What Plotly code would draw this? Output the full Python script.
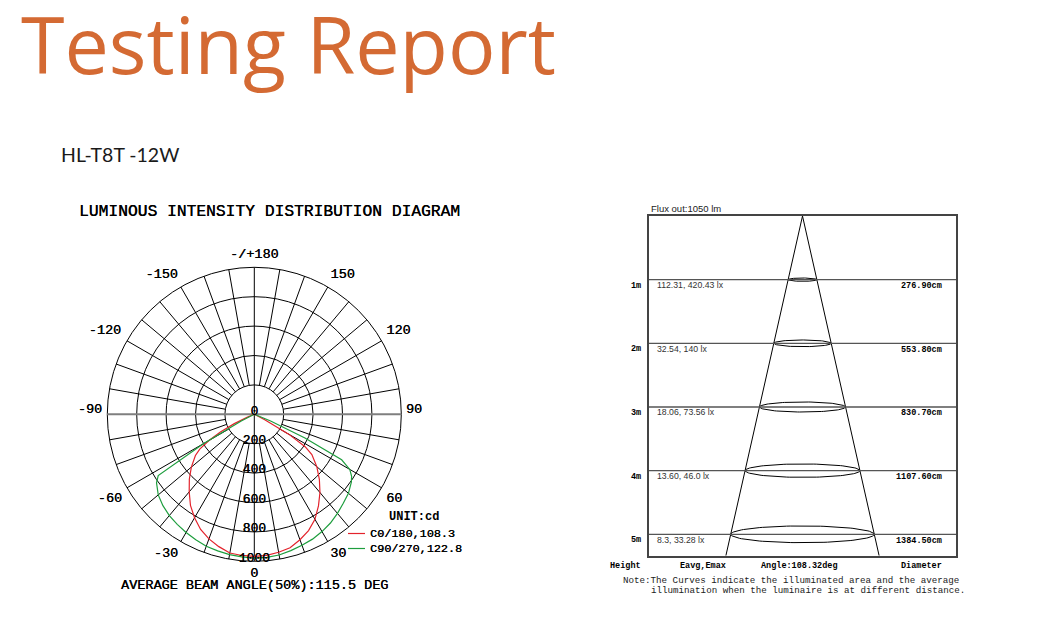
import numpy as np
import plotly.graph_objects as go

# ---------------- data ----------------
# luminous intensity (cd), gamma in degrees from nadir
gamma = [0, 5, 10, 15, 20, 25, 30, 35, 40, 45, 50, 55, 57.5, 60, 62.5, 65, 67.5, 70, 75, 80, 85, 90]
c0 = [967, 963, 953, 940, 908, 873, 825, 761, 695, 626, 555, 478, 410, 270, 80, 0, 0, 0, 0, 0, 0, 0]
c180 = [967, 964, 958, 932, 902, 864, 813, 757, 689, 625, 559, 489, 440, 356, 260, 150, 50, 0, 0, 0, 0, 0]
c90 = [978, 977, 972, 960, 948, 937, 921, 903, 880, 856, 836, 806, 785, 750, 670, 380, 120, 0, 0, 0, 0, 0]
c270 = [978, 974, 969, 962, 955, 942, 928, 914, 899, 879, 853, 812, 775, 400, 100, 0, 0, 0, 0, 0, 0, 0]

beam_c0_180 = 108.3
beam_c90_270 = 122.8
avg_beam = 115.5

angle_tickvals = [0, 30, 60, 90, 120, 150, 180, 210, 240, 270, 300, 330]
angle_ticktext = ["0", "30", "60", "90", "120", "150", "-/+180", "-150", "-120", "-90", "-60", "-30"]
radial_ticks = [0, 200, 400, 600, 800, 1000]

# illuminance cone diagram
flux_lm = 1050
heights_m = [1, 2, 3, 4, 5]
eavg = ["112.31", "32.54", "18.06", "13.60", "8.3"]
emax = ["420.43", "140", "73.56", "46.0", "33.28"]
diameter_cm = [276.90, 553.80, 830.70, 1107.60, 1384.50]
cone_angle = 108.32

# ---------------- layout helpers ----------------
W, H = 1040, 621
def px(x):
    return x / W
def py(y):
    return 1 - y / H

MONO = "Liberation Mono"
SANS = "Liberation Sans"
RED = "#E3232C"
GREEN = "#1E9E3E"
HEAVY = "0.3px 0px 0px #000"   # slight faux-bold for the Courier-like texts

# polar geometry: centre and outer-ring radius in pixels, extra room for labels
CX, CY, RPX = 254.3, 414.3, 147.0
ROOM = 1.18
# where each angular label sits (angle in deg, distance as fraction of the outer ring)
angle_label_pos = [0, 31, 59, 91.5, 120, 147.6, 180, 213.6, 240.8, 268.5, 300.2, 327.7]
angle_label_dist = [1.082, 1.109, 1.111, 1.087, 1.133, 1.122, 1.084, 1.138, 1.164, 1.118, 1.136, 1.124]
radial_label_lift = 20   # radial labels sit a little above their ring

fig = go.Figure()

rmax = radial_ticks[-1]
# ---- polar grid: spokes every 10 deg from the 200 ring outward ----
sp_r, sp_t = [], []
for a in range(0, 360, 10):
    if a % 90 == 0:
        continue
    sp_r += [radial_ticks[1], rmax, None]
    sp_t += [a, a, None]
fig.add_trace(go.Scatterpolar(r=sp_r, theta=sp_t, mode="lines",
                              line=dict(color="black", width=1),
                              hoverinfo="skip", showlegend=False))
# vertical axis through centre
fig.add_trace(go.Scatterpolar(r=[rmax, 0, rmax], theta=[180, 180, 0],
                              mode="lines", line=dict(color="black", width=1),
                              hoverinfo="skip", showlegend=False))
# horizontal axis through centre
fig.add_trace(go.Scatterpolar(r=[rmax, 0, rmax], theta=[270, 270, 90],
                              mode="lines", line=dict(color="#7f7f7f", width=2),
                              hoverinfo="skip", showlegend=False))

# ---- curves ----
def curve(left, right):
    th = [-g for g in reversed(gamma)] + gamma[1:]
    rr = list(reversed(left)) + right[1:]
    return rr, th

r_red, t_red = curve(c180, c0)
r_grn, t_grn = curve(c270, c90)
fig.add_trace(go.Scatterpolar(r=r_red, theta=t_red, mode="lines",
                              line=dict(color=RED, width=1.2), hoverinfo="skip",
                              showlegend=False))
fig.add_trace(go.Scatterpolar(r=r_grn, theta=t_grn, mode="lines",
                              line=dict(color=GREEN, width=1.2), hoverinfo="skip",
                              showlegend=False))

# radial labels along the nadir line
lab_r = [abs(v - radial_label_lift) for v in radial_ticks]
lab_t = [0 if v >= radial_label_lift else 180 for v in radial_ticks]
fig.add_trace(go.Scatterpolar(r=lab_r, theta=lab_t, mode="text",
                              text=[str(v) for v in radial_ticks], textposition="middle center",
                              textfont=dict(family=MONO, size=13, color="black", shadow=HEAVY),
                              cliponaxis=False, hoverinfo="skip", showlegend=False))
# angular labels outside the outer ring
fig.add_trace(go.Scatterpolar(r=[d * rmax for d in angle_label_dist],
                              theta=angle_label_pos, mode="text", text=angle_ticktext,
                              textposition="middle center",
                              textfont=dict(family=MONO, size=13.5, color="black", shadow=HEAVY),
                              cliponaxis=False, hoverinfo="skip", showlegend=False))

RD = RPX * ROOM
fig.update_layout(
    polar=dict(
        domain=dict(x=[px(CX - RD), px(CX + RD)], y=[py(CY + RD), py(CY - RD)]),
        bgcolor="rgba(0,0,0,0)",
        angularaxis=dict(rotation=-90, direction="counterclockwise",
                         tickmode="array", tickvals=angle_tickvals,
                         showticklabels=False,
                         showgrid=False, showline=False, ticks=""),
        radialaxis=dict(range=[0, rmax * ROOM], tickvals=radial_ticks[1:],
                        showticklabels=False, showline=False, ticks="",
                        gridcolor="black", gridwidth=1),
    )
)

# ---- cone diagram (cartesian) ----
x_half = 14.8
y_bottom = 5.336
half = np.tan(np.radians(cone_angle / 2))
fig.add_trace(go.Scatter(x=[-y_bottom * half, 0, y_bottom * half], y=[y_bottom, 0, y_bottom],
                         mode="lines", line=dict(color="black", width=1),
                         hoverinfo="skip", showlegend=False, xaxis="x", yaxis="y"))
ex, ey = [], []
t = np.linspace(0, 2 * np.pi, 120)
for h, d in zip(heights_m, diameter_cm):
    a = d / 200.0
    b = 0.019 * a
    ex += list(a * np.cos(t)) + [None]
    ey += list(h + b * np.sin(t)) + [None]
fig.add_trace(go.Scatter(x=ex, y=ey, mode="lines", line=dict(color="black", width=1),
                         hoverinfo="skip", showlegend=False, xaxis="x", yaxis="y"))

fig.update_layout(
    xaxis=dict(domain=[px(649), px(956)], range=[-x_half, x_half], showgrid=False,
               zeroline=False, showticklabels=False, ticks="", showline=True, mirror=True,
               linecolor="#444", linewidth=1.5, fixedrange=True),
    yaxis=dict(domain=[py(555.7), py(216)], range=[y_bottom, 0], showgrid=False,
               zeroline=False, showticklabels=False, ticks="", showline=True, mirror=True,
               linecolor="#444", linewidth=1.5, fixedrange=True),
)

shapes = []
for h in heights_m:
    shapes.append(dict(type="line", xref="x domain", yref="y", x0=0, x1=1, y0=h, y1=h,
                       line=dict(color="#555", width=1.3)))
# legend samples
shapes.append(dict(type="line", xref="paper", yref="paper", x0=px(348), x1=px(365),
                   y0=py(533.5), y1=py(533.5), line=dict(color=RED, width=1.2)))
shapes.append(dict(type="line", xref="paper", yref="paper", x0=px(348), x1=px(365),
                   y0=py(548.5), y1=py(548.5), line=dict(color=GREEN, width=1.2)))

ann = []
def pa(text, x, y, size, family=MONO, color="black", xanchor="center", weight=None, shadow=None):
    f = dict(family=family, size=size, color=color)
    if weight:
        f["weight"] = weight
    if shadow:
        f["shadow"] = shadow
    ann.append(dict(text=text, x=px(x), y=py(y), xref="paper", yref="paper",
                    xanchor=xanchor, yanchor="middle", showarrow=False, font=f))

pa("Testing Report", 19, 44, 79, family="Open Sans", color="#D46A33", xanchor="left")
pa("HL-T8T -12W", 59, 154, 19.5, family="Lato", color="#1a1a1a", xanchor="left")
pa("LUMINOUS INTENSITY DISTRIBUTION DIAGRAM", 269.5, 211.5, 16.3, shadow=HEAVY)
pa(f"AVERAGE BEAM ANGLE(50%):{avg_beam} DEG", 254.2, 585, 13.5, shadow=HEAVY)
pa("UNIT:cd", 413.8, 517.3, 12, weight="bold")
pa(f"C0/180,{beam_c0_180}", 367.5, 533.5, 11.8, xanchor="left", shadow=HEAVY)
pa(f"C90/270,{beam_c90_270}", 367.5, 548.5, 11.8, xanchor="left", shadow=HEAVY)

# cone diagram texts
ann.append(dict(text=f"Flux out:{flux_lm} lm", x=-x_half, y=0, xref="x", yref="y",
                xanchor="left", yanchor="bottom", yshift=0, showarrow=False,
                font=dict(family=SANS, size=9.5, color="#222")))
for h, ea, em, d in zip(heights_m, eavg, emax, diameter_cm):
    ann.append(dict(text=f"{h}m", x=-x_half, y=h, xref="x", yref="y", xanchor="right",
                    yanchor="middle", xshift=-6, yshift=-6, showarrow=False,
                    font=dict(family=MONO, size=8.5, color="black", weight="bold")))
    ann.append(dict(text=f"{ea}, {em} lx", x=-x_half, y=h, xref="x", yref="y",
                    xanchor="left", yanchor="middle", xshift=6, yshift=-5.5, showarrow=False,
                    font=dict(family=SANS, size=8.7, color="#333")))
    ann.append(dict(text=f"{d:.2f}cm", x=x_half, y=h, xref="x", yref="y", xanchor="right",
                    yanchor="middle", xshift=-12, yshift=-6.5, showarrow=False,
                    font=dict(family=MONO, size=8.5, color="black", weight="bold")))

pa("Height", 642.5, 565.5, 8.5, xanchor="right", weight="bold")
pa("Eavg,Emax", 703, 565.5, 8.5, weight="bold")
pa(f"Angle:{cone_angle}deg", 799, 565.5, 8.5, weight="bold")
pa("Diameter", 943.5, 565.5, 8.5, xanchor="right", weight="bold")
pa("Note:The Curves indicate the illuminated area and the average", 620.5, 580, 9.2,
   xanchor="left", color="#222")
pa("illumination when the luminaire is at different distance.", 648.5, 590.5, 9.2,
   xanchor="left", color="#222")

fig.update_layout(
    width=W, height=H, margin=dict(l=0, r=0, t=0, b=0),
    paper_bgcolor="white", plot_bgcolor="white",
    shapes=shapes, annotations=ann, showlegend=False,
)

fig.write_html("out.html", config={"displayModeBar": False},
               post_script="document.body.style.margin='0px';document.body.style.overflow='hidden';")
